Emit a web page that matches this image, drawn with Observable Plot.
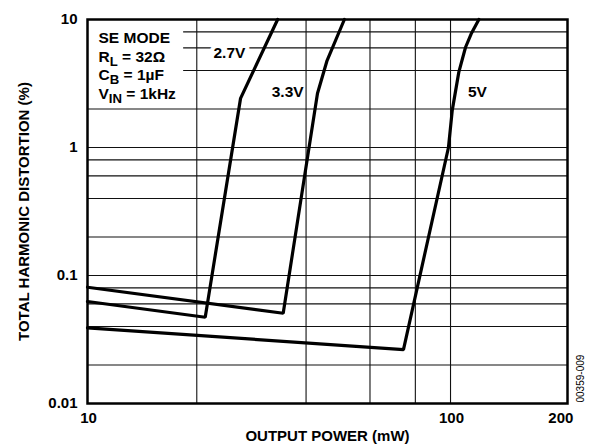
<!DOCTYPE html>
<html>
<head>
<meta charset="utf-8">
<script src="https://cdn.jsdelivr.net/npm/d3@7"></script>
<script src="https://cdn.jsdelivr.net/npm/@observablehq/plot@0.6"></script>
<style>
  html, body { margin: 0; padding: 0; background: #fff; }
  #chart { width: 594px; height: 444px; }
</style>
</head>
<body>
<div id="chart"></div>
<script>
// ---- data ----
const xTicks = [10, 100, 200];
const xTickLabels = ["10", "100", "200"];
const yTicks = [0.01, 0.1, 1, 10];
const yTickLabels = ["0.01", "0.1", "1", "10"];
const xGrid = [20, 40, 60, 80, 100];
const yGrid = [0.02, 0.04, 0.06, 0.08, 0.1, 0.2, 0.4, 0.6, 0.8, 1, 2, 4, 6, 8];

const power27 = [10, 21.1, 26.4, 33.4];
const thd27   = [0.0626, 0.0472, 2.42, 10];
const power33 = [10, 34.6, 43.0, 45.7, 51];
const thd33   = [0.081, 0.0507, 2.64, 4.78, 10];
const power5  = [10, 74.2, 98.7, 101.1, 105.4, 110, 114, 119.7];
const thd5    = [0.039, 0.0264, 1.0, 1.95, 3.88, 6.07, 7.73, 10];

const seriesNames = ["2.7V", "3.3V", "5V"];
const legendLines = ["SE MODE", "R_L = 32Ω", "C_B = 1µF", "V_IN = 1kHz"];
const xTitle = "OUTPUT POWER (mW)";
const yTitle = "TOTAL HARMONIC DISTORTION (%)";
const figId = "00359-009";

// ---- build table ----
const rows = [];
[[power27, thd27, seriesNames[0]], [power33, thd33, seriesNames[1]], [power5, thd5, seriesNames[2]]]
  .forEach(([xs, ys, s]) => xs.forEach((x, i) => rows.push({power: x, thd: ys[i], series: s})));

const FONT = "Liberation Sans, Arial, Helvetica, sans-serif";
const common = {fontFamily: FONT, fontWeight: "bold", fontSize: 15, fill: "#000"};

const plot = Plot.plot({
  width: 594,
  height: 444,
  marginLeft: 87,
  marginRight: 27,
  marginTop: 19,
  marginBottom: 41,
  style: {fontFamily: FONT, background: "#fff"},
  x: {type: "log", domain: [10, 210], axis: null},
  y: {type: "log", domain: [0.01, 10], axis: null},
  marks: [
    Plot.ruleX(xGrid, {stroke: "#111", strokeWidth: 1.1}),
    Plot.ruleY(yGrid, {stroke: "#111", strokeWidth: 1.1}),
    // legend box
    Plot.rect([0], {x1: 10, x2: 18.4, y1: 2.17, y2: 10, fill: "#fff"}),
    ...legendLines.map((t, i) => Plot.text([t], {
      text: d => d, frameAnchor: "top-left", textAnchor: "start", lineAnchor: "middle",
      dx: 11, dy: 18.5 + i * 18.6, ...common, fontSize: 15.5
    })),
    // curves
    Plot.line(rows, {x: "power", y: "thd", z: "series", stroke: "#000", strokeWidth: 3.2,
      strokeLinejoin: "miter", curve: "linear"}),
    // curve labels
    Plot.text([seriesNames[0]], {text: d => d, x: 24.6, y: 5.45, ...common, fontSize: 15.5,
      stroke: "#fff", strokeWidth: 8, paintOrder: "stroke"}),
    Plot.text([seriesNames[1]], {text: d => d, x: 35.6, y: 2.7, ...common, fontSize: 15.5}),
    Plot.text([seriesNames[2]], {text: d => d, x: 118.6, y: 2.69, ...common, fontSize: 15.5}),
    // tick labels
    Plot.text(xTicks, {x: d => d, text: (d, i) => xTickLabels[i], frameAnchor: "bottom",
      textAnchor: "middle", lineAnchor: "top", dy: 9, dx: 1, ...common}),
    Plot.text(yTicks, {y: d => d, text: (d, i) => yTickLabels[i], frameAnchor: "left",
      textAnchor: "end", lineAnchor: "middle", dx: -10, ...common}),
    // axis titles
    Plot.text([xTitle], {text: d => d, frameAnchor: "bottom", textAnchor: "middle",
      lineAnchor: "middle", dy: 33, ...common}),
    Plot.text([yTitle], {text: d => d, frameAnchor: "left", textAnchor: "middle",
      lineAnchor: "middle", rotate: -90, dx: -63, ...common}),
    Plot.text([figId], {text: d => d, frameAnchor: "bottom-right", textAnchor: "start",
      lineAnchor: "middle", rotate: -90, dx: 13, dy: -1, fontFamily: FONT, fontSize: 10, fill: "#000"}),
    Plot.frame({stroke: "#000", strokeWidth: 2.5})
  ]
});

// subscripts (R_L, C_B, V_IN)
d3.select(plot).selectAll("text").each(function () {
  const s = this.textContent;
  const m = s.match(/^([^_]*)_(\w+)(.*)$/);
  if (!m) return;
  const t = d3.select(this);
  t.text(null);
  t.append("tspan").text(m[1]);
  t.append("tspan").attr("dy", 4).attr("font-size", "0.85em").text(m[2]);
  t.append("tspan").attr("dy", -4).text(m[3]);
});

document.getElementById("chart").appendChild(plot);
</script>
</body>
</html>
